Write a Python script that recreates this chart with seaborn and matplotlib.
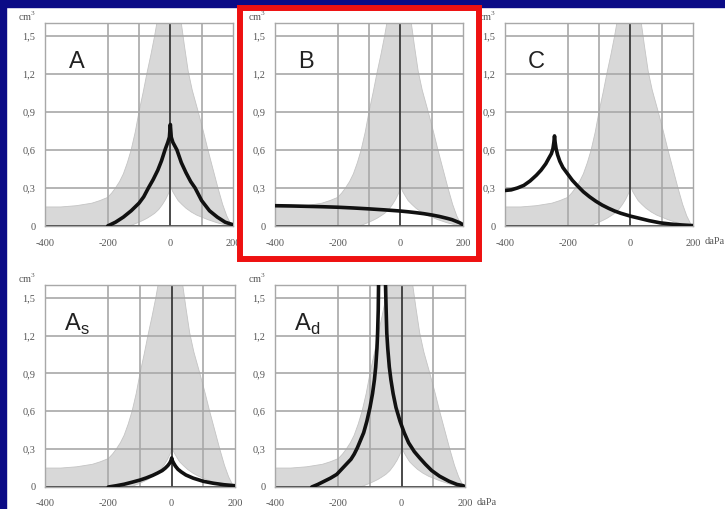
import matplotlib
matplotlib.use("Agg")
import matplotlib.pyplot as plt
from matplotlib.patches import Rectangle
import seaborn as sns
import pandas as pd

sns.set_theme(style="white")
plt.rcParams['font.family'] = ['Liberation Serif', 'DejaVu Serif']

# ---- data ----
x_ticks = [-400, -200, 0, 200]
x_tick_labels = ["-400", "-200", "0", "200"]
y_ticks = [0, 0.3, 0.6, 0.9, 1.2, 1.5]
y_tick_labels = ["0", "0,3", "0,6", "0,9", "1,2", "1,5"]
x_grid = [-200, -100, 100]
y_grid = [0.3, 0.6, 0.9, 1.2, 1.5]

# normal range band (grey): outer (upper) boundary, left to right
band_up_x = [-400, -350, -300, -250, -225, -200, -187, -175, -162, -150, -137, -125, -112, -100,
             -87, -75, -62, -50, -43, -30, -10, 0, 15, 35, 45, 57, 70, 89, 105, 120, 136, 152,
             167, 180, 192, 200]
band_up_y = [0.15, 0.15, 0.16, 0.18, 0.2, 0.225, 0.26, 0.3, 0.35, 0.41, 0.5, 0.6, 0.74, 0.9,
             1.05, 1.2, 1.35, 1.5, 1.6, 1.8, 2.1, 2.2, 2.0, 1.6, 1.42, 1.22, 1.07, 0.9, 0.75, 0.6,
             0.45, 0.3, 0.17, 0.08, 0.02, 0.0]
# inner (lower) boundary, left to right
band_lo_x = [-400, -130, -115, -100, -87, -75, -62, -50, -37, -25, -15, -7, -2, 0, 3, 8, 15, 25,
             37, 50, 67, 85, 100, 120, 150, 175, 200]
band_lo_y = [0, 0, 0.015, 0.03, 0.045, 0.06, 0.08, 0.1, 0.13, 0.17, 0.21, 0.25, 0.28, 0.31, 0.3,
             0.27, 0.24, 0.2, 0.17, 0.14, 0.11, 0.085, 0.07, 0.05, 0.025, 0.01, 0]

# tympanogram curves
a_x = [-200, -175, -150, -125, -100, -85, -70, -55, -40, -28, -17, -8, -3, 0,
       3, 8, 21, 35, 50, 65, 79, 100, 125, 150, 175, 200]
a_y = [0, 0.03, 0.07, 0.12, 0.18, 0.23, 0.3, 0.365, 0.44, 0.515, 0.6, 0.66, 0.7, 0.8,
       0.7, 0.66, 0.6, 0.5, 0.42, 0.35, 0.3, 0.2, 0.12, 0.07, 0.03, 0.01]

b_x = [-400, -350, -300, -250, -200, -150, -100, -50, 0, 25, 50, 75, 100, 125, 150, 165, 180,
       190, 200]
b_y = [0.16, 0.158, 0.155, 0.152, 0.148, 0.142, 0.135, 0.127, 0.118, 0.112, 0.105, 0.097,
       0.087, 0.075, 0.06, 0.05, 0.035, 0.025, 0.01]

c_x = [-400, -380, -360, -340, -320, -300, -285, -270, -260, -252, -247, -244, -242, -240, -237,
       -232, -225, -215, -200, -185, -170, -150, -130, -110, -90, -70, -50, -30, 0, 30, 60, 95,
       130, 165, 200]
c_y = [0.28, 0.285, 0.3, 0.32, 0.355, 0.4, 0.44, 0.49, 0.535, 0.57, 0.61, 0.66, 0.71, 0.66,
       0.61, 0.56, 0.51, 0.46, 0.41, 0.36, 0.32, 0.27, 0.23, 0.195, 0.165, 0.14, 0.118, 0.1,
       0.078, 0.06, 0.042, 0.025, 0.015, 0.008, 0.003]

as_x = [-200, -175, -150, -125, -100, -80, -60, -45, -30, -20, -12, -6, -2, 0, 2, 6, 12, 20, 30,
        45, 68, 100, 131, 165, 200]
as_y = [0, 0.01, 0.022, 0.038, 0.055, 0.072, 0.092, 0.11, 0.13, 0.15, 0.17, 0.19, 0.21, 0.23,
        0.21, 0.19, 0.165, 0.14, 0.12, 0.095, 0.07, 0.045, 0.03, 0.018, 0.01]

ad_x = [-284, -265, -245, -225, -205, -190, -175, -160, -150, -140, -130, -120, -110, -100, -92,
        -86, -82, -78, -76, -74, -73, -72, -62, -52, -51, -49, -47, -44, -39, -34, -27, -18, -5,
        8, 22, 40, 57, 75, 95, 120, 150, 175, 195]
ad_y = [0, 0.02, 0.045, 0.07, 0.1, 0.14, 0.18, 0.22, 0.26, 0.31, 0.37, 0.43, 0.52, 0.63, 0.74,
        0.85, 0.95, 1.1, 1.22, 1.4, 1.6, 1.8, 2.5, 1.8, 1.6, 1.4, 1.22, 1.1, 0.95, 0.85, 0.74,
        0.63, 0.52, 0.43, 0.35, 0.28, 0.23, 0.18, 0.13, 0.085, 0.045, 0.02, 0.01]

panels = [
    ("A", None, a_x, a_y, [45, 226, 188, 203], False),
    ("B", None, b_x, b_y, [275, 226, 188, 203], False),
    ("C", None, c_x, c_y, [505, 226, 188, 203], True),
    ("A", "s", as_x, as_y, [45, 487, 190, 202], False),
    ("A", "d", ad_x, ad_y, [275, 487, 190, 202], True),
]

W, H = 725, 509
fig = plt.figure(figsize=(W / 100, H / 100), dpi=100)
fig.patch.set_facecolor("white")

navy = "#0b0b86"
fig.patches.append(Rectangle((0, 1 - 7 / H), 1, 7 / H, transform=fig.transFigure,
                             color=navy, zorder=0))
fig.patches.append(Rectangle((0, 0), 6 / W, 1, transform=fig.transFigure,
                             color=navy, zorder=0))

grid_col = "#a8a8a8"
dark = "#3a3a3a"
tick_col = "#555555"

band_poly_x = band_up_x + band_lo_x[::-1]
band_poly_y = band_up_y + band_lo_y[::-1]

for letter, sub, cx, cy, (l, b, w, h), dapa in panels:
    ax = fig.add_axes([l / W, (H - b) / H, w / W, h / H])
    ax.set_facecolor("white")
    ax.fill(band_poly_x, band_poly_y, color="#d8d8d8", lw=0.6, ec="#c4c4c4", zorder=1)
    for gx in x_grid:
        ax.axvline(gx, color=grid_col, lw=1.2, zorder=1.5)
    for gy in y_grid:
        ax.axhline(gy, color=grid_col, lw=1.2, zorder=1.5)
    ax.axvline(0, color=dark, lw=1.3, zorder=1.6)
    ax.axhline(0, color=dark, lw=1.3, zorder=1.6)
    df = pd.DataFrame({"x": cx, "y": cy})
    sns.lineplot(data=df, x="x", y="y", ax=ax, color="#111111", lw=2.6,
                 estimator=None, sort=False, zorder=3)
    ax.set_xlim(-400, 200)
    ax.set_ylim(0, 1.6)
    ax.set_xticks(x_ticks)
    ax.set_xticklabels(x_tick_labels)
    ax.set_yticks(y_ticks)
    ax.set_yticklabels(y_tick_labels)
    ax.tick_params(length=0, labelsize=7.5, colors=tick_col, pad=7)
    ax.tick_params(axis="x", pad=9)
    ax.set_xlabel("")
    ax.set_ylabel("")
    for s in ax.spines.values():
        s.set_color(grid_col)
        s.set_linewidth(1.0)
    ax.grid(False)
    ax.text(-0.096, 1.03, "cm$^\\mathregular{3}$", transform=ax.transAxes, fontsize=7.5,
            color=tick_col, ha="center", va="center")
    if sub is None:
        lab = letter
    else:
        lab = letter + "$_\\mathregular{" + sub + "}$"
    ax.text(-300, 1.29, lab, fontsize=17, color="#222222", ha="center", va="center",
            family=["Liberation Sans", "DejaVu Sans"])
    if dapa:
        ax.text(1.06, -0.075, "daPa", transform=ax.transAxes, fontsize=7.5,
                color=tick_col, ha="left", va="center")

# red highlight box around panel B
fig.patches.append(Rectangle((240 / W, 1 - 259 / H), 239 / W, 251 / H, transform=fig.transFigure,
                             fill=False, edgecolor="#ee1111", lw=4.3, zorder=10))

fig.savefig("out.png", dpi=100, facecolor=fig.get_facecolor())
